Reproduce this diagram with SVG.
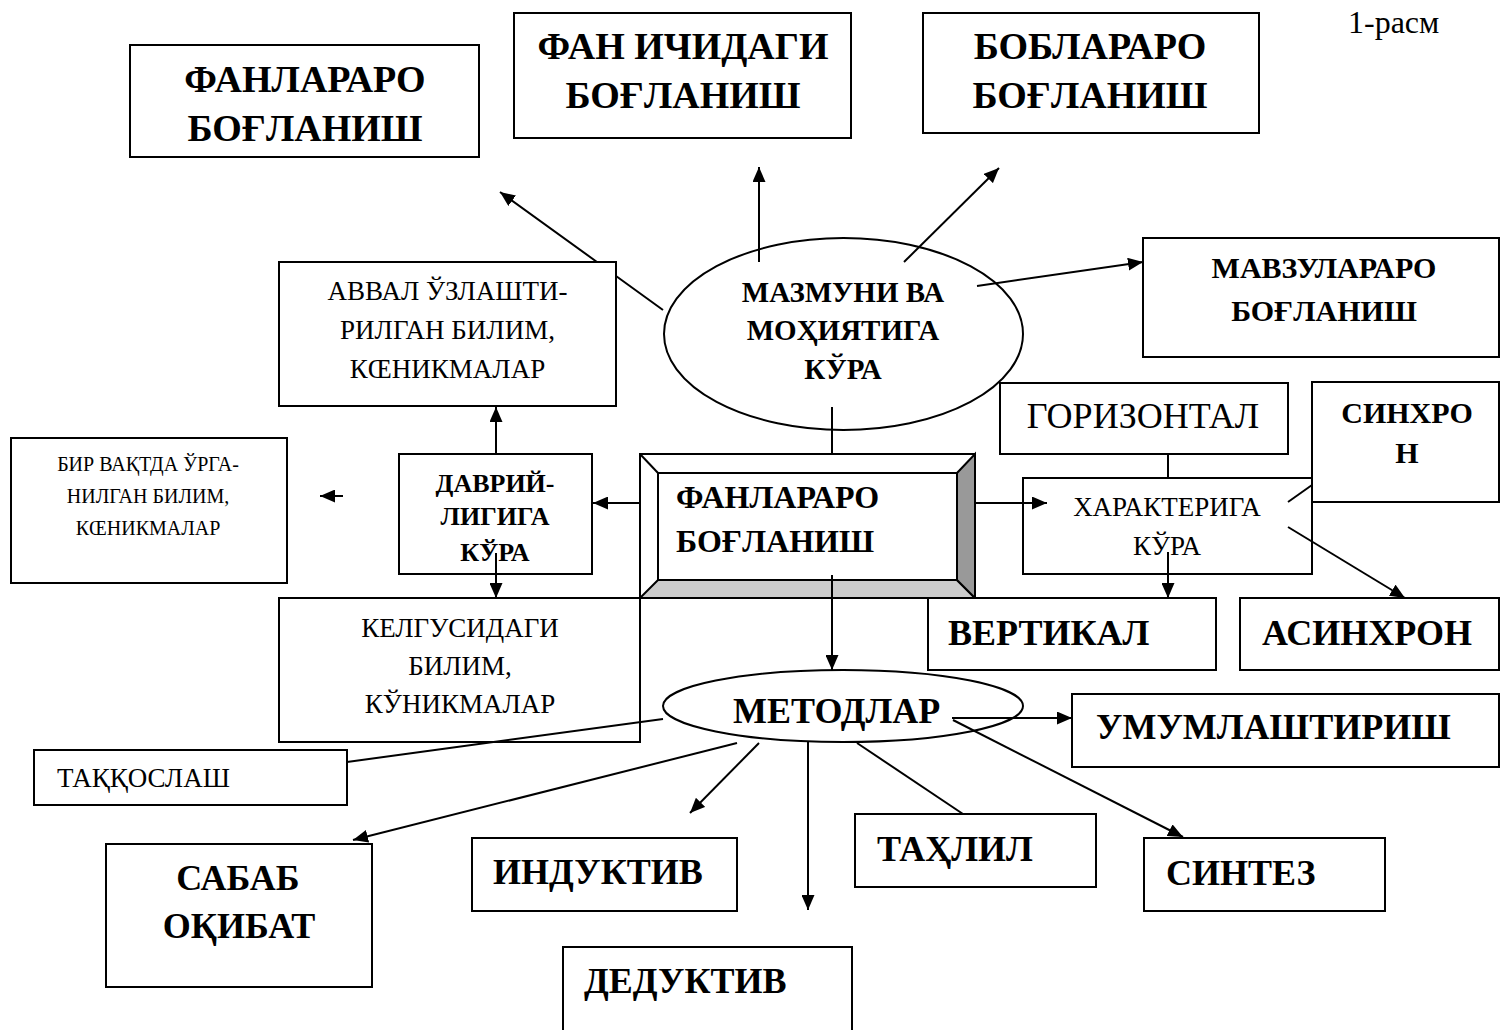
<svg xmlns="http://www.w3.org/2000/svg" width="1501" height="1030" viewBox="0 0 1501 1030">
<style>
.box{fill:#fff;stroke:#000;stroke-width:2}
.ell{fill:#fff;stroke:#000;stroke-width:2}
.c{fill:none;stroke:#000;stroke-width:2}
.b{font-family:"Liberation Serif","DejaVu Serif",serif;font-weight:bold;fill:#000}
.r{font-family:"Liberation Serif","DejaVu Serif",serif;fill:#000}
.m{text-anchor:middle}
</style>
<defs>
<marker id="ah" markerWidth="15" markerHeight="13" refX="15" refY="6.5" orient="auto" markerUnits="userSpaceOnUse"><path d="M0,0 L15,6.5 L0,13 z" fill="#000"/></marker>
</defs>
<rect width="1501" height="1030" fill="#fff"/>
<text class="r" x="1348" y="33" font-size="32">1-расм</text>

<g id="n-fanlararo-top">
<rect class="box" x="130" y="45" width="349" height="112"/>
<text class="b m" x="305" y="92" font-size="38">ФАНЛАРАРО</text>
<text class="b m" x="305" y="141" font-size="38">БОҒЛАНИШ</text>
</g>
<g id="n-fan-ichidagi">
<rect class="box" x="514" y="13" width="337" height="125"/>
<text class="b m" x="683" y="59" font-size="38">ФАН ИЧИДАГИ</text>
<text class="b m" x="683" y="108" font-size="38">БОҒЛАНИШ</text>
</g>
<g id="n-boblararo">
<rect class="box" x="923" y="13" width="336" height="120"/>
<text class="b m" x="1090" y="59" font-size="38">БОБЛАРАРО</text>
<text class="b m" x="1090" y="108" font-size="38">БОҒЛАНИШ</text>
</g>
<g id="n-mavzulararo">
<rect class="box" x="1143" y="238" width="356" height="119"/>
<text class="b m" x="1324" y="278" font-size="30">МАВЗУЛАРАРО</text>
<text class="b m" x="1324" y="321" font-size="30">БОҒЛАНИШ</text>
</g>
<g id="n-mazmuni">
<ellipse class="ell" cx="843.5" cy="334" rx="179.5" ry="96"/>
<text class="b m" x="843" y="302" font-size="29">МАЗМУНИ ВА</text>
<text class="b m" x="843" y="340" font-size="29">МОҲИЯТИГА</text>
<text class="b m" x="843" y="379" font-size="29">КЎРА</text>
</g>
<g id="n-avval">
<rect class="box" x="279" y="262" width="337" height="144"/>
<text class="r m" x="447.5" y="300" font-size="27">АВВАЛ ЎЗЛАШТИ-</text>
<text class="r m" x="447.5" y="339" font-size="27">РИЛГАН БИЛИМ,</text>
<text class="r m" x="447.5" y="378" font-size="27">КŒНИКМАЛАР</text>
</g>
<g id="n-gorizontal">
<rect class="box" x="1000" y="383" width="288" height="71"/>
<text class="r m" x="1143" y="428" font-size="36">ГОРИЗОНТАЛ</text>
</g>
<g id="n-sinxron">
<rect class="box" x="1312" y="382" width="187" height="120"/>
<text class="b m" x="1407" y="423" font-size="30">СИНХРО</text>
<text class="b m" x="1407" y="463" font-size="30">Н</text>
</g>
<g id="n-bir">
<rect class="box" x="11" y="438" width="276" height="145"/>
<text class="r m" x="148" y="471" font-size="20">БИР ВАҚТДА ЎРГА-</text>
<text class="r m" x="148" y="503" font-size="20">НИЛГАН БИЛИМ,</text>
<text class="r m" x="148" y="535" font-size="20">КŒНИКМАЛАР</text>
</g>
<g id="n-davriy">
<rect class="box" x="399" y="454" width="193" height="120"/>
<text class="b m" x="495" y="492" font-size="26">ДАВРИЙ-</text>
<text class="b m" x="495" y="525" font-size="26">ЛИГИГА</text>
<text class="b m" x="495" y="561" font-size="26">КЎРА</text>
</g>
<g id="n-central">
<rect x="640" y="454" width="335" height="144" fill="#fff" stroke="#000" stroke-width="2"/>
<polygon points="640,598 975,598 957,580 658,580" fill="#cccccc" stroke="#000" stroke-width="2"/>
<polygon points="975,454 975,598 957,580 957,473" fill="#999999" stroke="#000" stroke-width="2"/>
<line x1="640" y1="454" x2="658" y2="473" stroke="#000" stroke-width="2"/>
<rect x="658" y="473" width="299" height="107" fill="#fff" stroke="#000" stroke-width="2"/>
<text class="b" x="676" y="508" font-size="32">ФАНЛАРАРО</text>
<text class="b" x="676" y="552" font-size="32">БОҒЛАНИШ</text>
</g>
<g id="n-xarakter">
<rect class="box" x="1023" y="478" width="289" height="96"/>
<text class="r m" x="1167" y="516" font-size="27">ХАРАКТЕРИГА</text>
<text class="r m" x="1167" y="555" font-size="27">КЎРА</text>
</g>
<g id="n-kelgusi">
<rect class="box" x="279" y="598" width="361" height="144"/>
<text class="r m" x="460" y="637" font-size="27">КЕЛГУСИДАГИ</text>
<text class="r m" x="460" y="675" font-size="27">БИЛИМ,</text>
<text class="r m" x="460" y="713" font-size="27">КЎНИКМАЛАР</text>
</g>
<g id="n-vertikal">
<rect class="box" x="928" y="598" width="288" height="72"/>
<text class="b" x="948" y="645" font-size="36">ВЕРТИКАЛ</text>
</g>
<g id="n-asinxron">
<rect class="box" x="1240" y="598" width="259" height="72"/>
<text class="b" x="1262" y="645" font-size="36">АСИНХРОН</text>
</g>
<g id="n-metodlar">
<ellipse class="ell" cx="843" cy="706" rx="180" ry="36"/>
<text class="b" x="733" y="723" font-size="36">МЕТОДЛАР</text>
</g>
<g id="n-umumlashtirish">
<rect class="box" x="1072" y="694" width="427" height="73"/>
<text class="b" x="1096" y="739" font-size="36">УМУМЛАШТИРИШ</text>
</g>
<g id="n-taqqoslash">
<rect class="box" x="34" y="750" width="313" height="55"/>
<text class="r" x="57" y="787" font-size="27">ТАҚҚОСЛАШ</text>
</g>
<g id="n-tahlil">
<rect class="box" x="855" y="814" width="241" height="73"/>
<text class="b" x="877" y="861" font-size="36">ТАҲЛИЛ</text>
</g>
<g id="n-sintez">
<rect class="box" x="1144" y="838" width="241" height="73"/>
<text class="b" x="1166" y="885" font-size="36">СИНТЕЗ</text>
</g>
<g id="n-induktiv">
<rect class="box" x="472" y="838" width="265" height="73"/>
<text class="b" x="493" y="884" font-size="36">ИНДУКТИВ</text>
</g>
<g id="n-sabab">
<rect class="box" x="106" y="844" width="266" height="143"/>
<text class="b m" x="238" y="890" font-size="36">САБАБ</text>
<text class="b m" x="239" y="938" font-size="36">ОҚИБАТ</text>
</g>
<g id="n-deduktiv">
<rect class="box" x="563" y="947" width="289" height="100"/>
<text class="b" x="584" y="993" font-size="36">ДЕДУКТИВ</text>
</g>

<g id="connectors">
<path class="c" d="M663,310 L616,276 M597,262 L500,192" marker-end="url(#ah)"/>
<path class="c" d="M759,262 L759,167" marker-end="url(#ah)"/>
<path class="c" d="M904,262 L999,168" marker-end="url(#ah)"/>
<path class="c" d="M977,286 L1143,262" marker-end="url(#ah)"/>
<path class="c" d="M832,407 L832,454"/>
<path class="c" d="M640,503 L593,503" marker-end="url(#ah)"/>
<path class="c" d="M496,454 L496,407" marker-end="url(#ah)"/>
<path class="c" d="M496,553 L496,598" marker-end="url(#ah)"/>
<path class="c" d="M343,496 L320,496" marker-end="url(#ah)"/>
<path class="c" d="M975,503 L1047,503" marker-end="url(#ah)"/>
<path class="c" d="M1168,454 L1168,478"/>
<path class="c" d="M1168,552 L1168,598" marker-end="url(#ah)"/>
<path class="c" d="M1288,502 L1312,485"/>
<path class="c" d="M1288,527 L1405,598" marker-end="url(#ah)"/>
<path class="c" d="M832,575 L832,670" marker-end="url(#ah)"/>
<path class="c" d="M952,718 L1072,718" marker-end="url(#ah)"/>
<path class="c" d="M953,720 L1183,837" marker-end="url(#ah)"/>
<path class="c" d="M857,743 L963,814"/>
<path class="c" d="M808,742 L808,910" marker-end="url(#ah)"/>
<path class="c" d="M759,743 L690,813" marker-end="url(#ah)"/>
<path class="c" d="M737,743 L353,840" marker-end="url(#ah)"/>
<path class="c" d="M663,719 L347,762"/>
</g>
</svg>
